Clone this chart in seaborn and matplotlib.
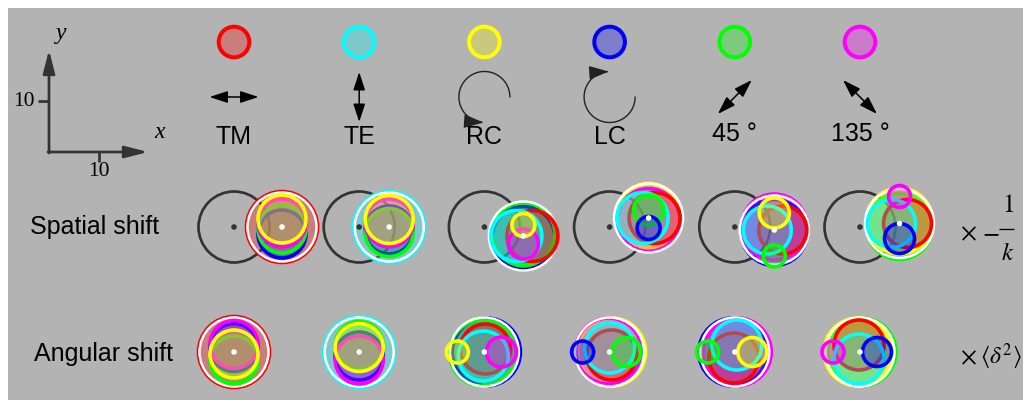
import numpy as np
import pandas as pd
import matplotlib
matplotlib.use("Agg")
import matplotlib.pyplot as plt
from matplotlib.patches import Circle, Rectangle, FancyArrowPatch, ArrowStyle
from matplotlib.path import Path
import seaborn as sns

sns.set_theme(style="white")
plt.rcParams["font.family"] = ["Liberation Sans", "DejaVu Sans"]
plt.rcParams["mathtext.fontset"] = "stix"
plt.rcParams["text.color"] = "black"

# ---------------------------------------------------------------- data
# incident polarization states (one column each) and their colours
states = ["TM", "TE", "RC", "LC", "45 °", "135 °"]
colors = ["#ff0000", "#00ffff", "#ffff00", "#0000ff", "#00ff00", "#ff00ff"]

# centroid of the total reflected beam relative to the reference beam (px, y down)
spatial_dx = [48.0, 30.0, 39.0, 39.0, 39.5, 39.5]
spatial_dy = [0.0, 0.0, 9.0, -9.0, 3.0, -3.5]
angular_dx = [0.0, 0.0, 0.0, 0.0, 0.0, 0.0]
angular_dy = [0.0, 0.0, 0.0, 0.0, 0.0, 0.0]

# component beams, columns ordered like `colors` (TM, TE, RC, LC, 45, 135);
# offsets from the total centroid and radii, NaN where a component vanishes
spatial_cx = [
    [0, np.nan, 0, 0, 0, 0],
    [np.nan, 0, 0, 0, 0, 0],
    [9, -7, 0, 0, 0, 0],
    [6, -6, 0, 0, 0, 0],
    [8.5, -7, 0, 0, 0, 0],
    [8, -8, 0, 0, 0, 0],
]
spatial_cy = [
    [0, np.nan, -8, 7, 2, -4],
    [np.nan, 0, -7.5, 3, 5.5, -4],
    [0, 0, -11, 2, -2, 8],
    [0, 0, -2.5, 10, -8, 2],
    [0, 0, -17, 2.5, 26, -3],
    [0, 0, -2.5, 15, 3, -27],
]
spatial_r = [
    [35.5, np.nan, 24, 24, 24, 24],
    [np.nan, 35.5, 24, 24, 24, 24],
    [25.5, 25.5, 11.5, 31.5, 31.5, 15],
    [25.5, 25.5, 32, 11.5, 15, 31.5],
    [24, 24, 15, 33, 11, 33],
    [24, 24, 33, 15, 33, 11],
]
angular_cx = [
    [0, np.nan, 0, 0, 0, 0],
    [np.nan, 0, 0, 0, 0, 0],
    [1, -1, -27, 2, -2, 17],
    [2, 0, 2, -27, 17, -1],
    [-1, 2, 17.5, -2, -27, 2.5],
    [-1, -1, -2, 17, 2, -27],
]
angular_cy = [
    [0, np.nan, 2, -4.5, 8, -7.5],
    [np.nan, 0, -4.5, 4, -6.5, 8],
    [-3, 4, 0, 0, 1, 0],
    [3, -4, 0, 0, 0, -1],
    [6, -7, 0, 0, 0, 0],
    [-7, 7, 0, 0, 0, 0],
]
angular_r = [
    [35.5, np.nan, 24, 24, 24, 24],
    [np.nan, 35.5, 24, 24, 24, 24],
    [25, 25, 11, 34, 33, 15],
    [25, 25, 34, 11, 14.5, 33],
    [25, 25, 14.5, 34, 11, 34],
    [25, 25, 34, 14.5, 34, 11],
]

# ---------------------------------------------------------------- layout
col_x = 234 + 125.2 * np.arange(len(states))
legend_y, symbol_y, label_y = 42, 97, 137
spatial_y, angular_y = 227, 352
ref_r, total_r = 35.5, 34.5
PT = 72 / 100  # points per pixel
DARK = "#333333"
draw_order = [0, 1, 3, 4, 5, 2]

fig = plt.figure(figsize=(10.27, 4.0), dpi=100)
ax = fig.add_axes([0, 0, 1, 1])
ax.set_xlim(0, 1027)
ax.set_ylim(400, 0)
ax.set_axis_off()
ax.add_patch(Rectangle((8, 8), 1015, 400, facecolor="#b3b3b3", edgecolor="none", zorder=0))


def beam(x, y, r, color, lw_px=3.6, z=2):
    ax.add_patch(Circle((x, y), r, facecolor=color, alpha=0.3, edgecolor="none", zorder=z))
    ax.add_patch(Circle((x, y), r, facecolor="none", edgecolor=color, lw=lw_px * PT, zorder=z))


# legend circles
for x, c in zip(col_x, colors):
    beam(x, legend_y, 15.3, c, lw_px=4)

# polarization symbols
def dbl_arrow(p0, p1):
    ax.add_patch(FancyArrowPatch(p0, p1, arrowstyle=ArrowStyle("<|-|>", head_length=11, head_width=3.6),
                                 mutation_scale=1, lw=1.1, color="black", shrinkA=0, shrinkB=0, zorder=3))


def arc_arrow(cx, cy, r, t0, t1):
    t = np.radians(np.linspace(t0, t1, 80))
    verts = np.column_stack([cx + r * np.cos(t), cy - r * np.sin(t)])
    ax.add_patch(FancyArrowPatch(path=Path(verts), arrowstyle=ArrowStyle("-|>", head_length=12, head_width=4.2),
                                 mutation_scale=1, lw=1.0, color="#222222", zorder=3))


dbl_arrow((col_x[0] - 24.5, symbol_y), (col_x[0] + 24.5, symbol_y))
dbl_arrow((col_x[1], symbol_y - 25), (col_x[1], symbol_y + 25))
arc_arrow(col_x[2], symbol_y, 25.5, 0, 268)
arc_arrow(col_x[3], symbol_y, 25.5, 0, -268)
dbl_arrow((col_x[4] - 17, symbol_y + 17), (col_x[4] + 17, symbol_y - 17))
dbl_arrow((col_x[5] - 17, symbol_y - 17), (col_x[5] + 17, symbol_y + 17))

for i, (x, s) in enumerate(zip(col_x, states)):
    y = label_y if i < 4 else label_y - 3
    ax.text(x, y, s, ha="center", va="center", fontsize=18, color="black")

ax.text(95, spatial_y, "Spatial shift", ha="center", va="center", fontsize=18, color="black")
ax.text(104, angular_y + 2, "Angular shift", ha="center", va="center", fontsize=18, color="black")


def panel(x0, y0, dx, dy, cx, cy, rr, reference):
    xc, yc = x0 + dx, y0 + dy
    if reference:
        ax.add_patch(Circle((x0, y0), ref_r, facecolor="none", edgecolor=DARK, lw=2.7 * PT, zorder=1))
    big = [k for k in draw_order if not np.isnan(rr[k]) and rr[k] >= 30]
    small = [k for k in draw_order if not np.isnan(rr[k]) and rr[k] < 30]
    big.sort(key=lambda k: -rr[k])
    small.sort(key=lambda k: -rr[k])
    for k in big:
        beam(xc + cx[k], yc + cy[k], rr[k], colors[k], z=2)
    ax.add_patch(Circle((xc, yc), total_r, facecolor="none", edgecolor="white", lw=2.5 * PT, zorder=3))
    for k in small:
        beam(xc + cx[k], yc + cy[k], rr[k], colors[k], z=4)
    return xc, yc


dots = []
for i, x0 in enumerate(col_x):
    xs, ys = panel(x0, spatial_y, spatial_dx[i], spatial_dy[i],
                   spatial_cx[i], spatial_cy[i], spatial_r[i], True)
    dots.append(dict(x=x0, y=spatial_y, kind="reference"))
    dots.append(dict(x=xs, y=ys, kind="total"))
    xa, ya = panel(x0, angular_y, angular_dx[i], angular_dy[i],
                   angular_cx[i], angular_cy[i], angular_r[i], False)
    dots.append(dict(x=xa, y=ya, kind="total"))

dots = pd.DataFrame(dots)
sns.scatterplot(data=dots, x="x", y="y", hue="kind", palette={"reference": DARK, "total": "white"},
                s=16, linewidth=0, legend=False, ax=ax, zorder=6)
ax.set_xlim(0, 1027)
ax.set_ylim(400, 0)
ax.set_axis_off()

# coordinate frame sketch
ox, oy = 49, 152
frame_style = ArrowStyle("-|>", head_length=14, head_width=3.6)
ax.add_patch(FancyArrowPatch((ox, oy + 1), (ox, 50), arrowstyle=frame_style, mutation_scale=1,
                             lw=2.7 * PT, color=DARK, shrinkA=0, shrinkB=0, zorder=3))
ax.add_patch(FancyArrowPatch((ox - 1, oy), (148, oy), arrowstyle=frame_style, mutation_scale=1,
                             lw=2.7 * PT, color=DARK, shrinkA=0, shrinkB=0, zorder=3))
ax.plot([38, ox], [101, 101], color=DARK, lw=2.7 * PT, solid_capstyle="butt")
ax.plot([99, 99], [oy, 162], color=DARK, lw=2.7 * PT, solid_capstyle="butt")
serif = ["Liberation Serif", "DejaVu Serif"]
ax.text(35, 101, "10", ha="right", va="center", fontsize=15.5, family=serif, color="black")
ax.text(99, 171, "10", ha="center", va="center", fontsize=15.5, family=serif, color="black")
ax.text(61, 34, "y", ha="center", va="center", fontsize=17, family=serif, style="italic", color="black")
ax.text(160, 133, "x", ha="center", va="center", fontsize=17, family=serif, style="italic", color="black")

# scale factors
ax.text(968, 233, r"$\times$", ha="center", va="center", fontsize=18, color="black")
ax.text(991, 232, r"$-$", ha="center", va="center", fontsize=18, color="black")
ax.plot([999, 1014], [229, 229], color="black", lw=1.3 * PT, solid_capstyle="butt")
ax.text(1007.5, 205, r"$1$", ha="center", va="center", fontsize=18, color="black")
ax.text(1007.5, 253, r"$k$", ha="center", va="center", fontsize=18, color="black")
ax.text(968, 357, r"$\times$", ha="center", va="center", fontsize=18, color="black")
ax.text(1022, 356, r"$\langle\delta^2\rangle$", ha="right", va="center", fontsize=17, color="black")

fig.savefig("out.png", dpi=100, facecolor="white")
